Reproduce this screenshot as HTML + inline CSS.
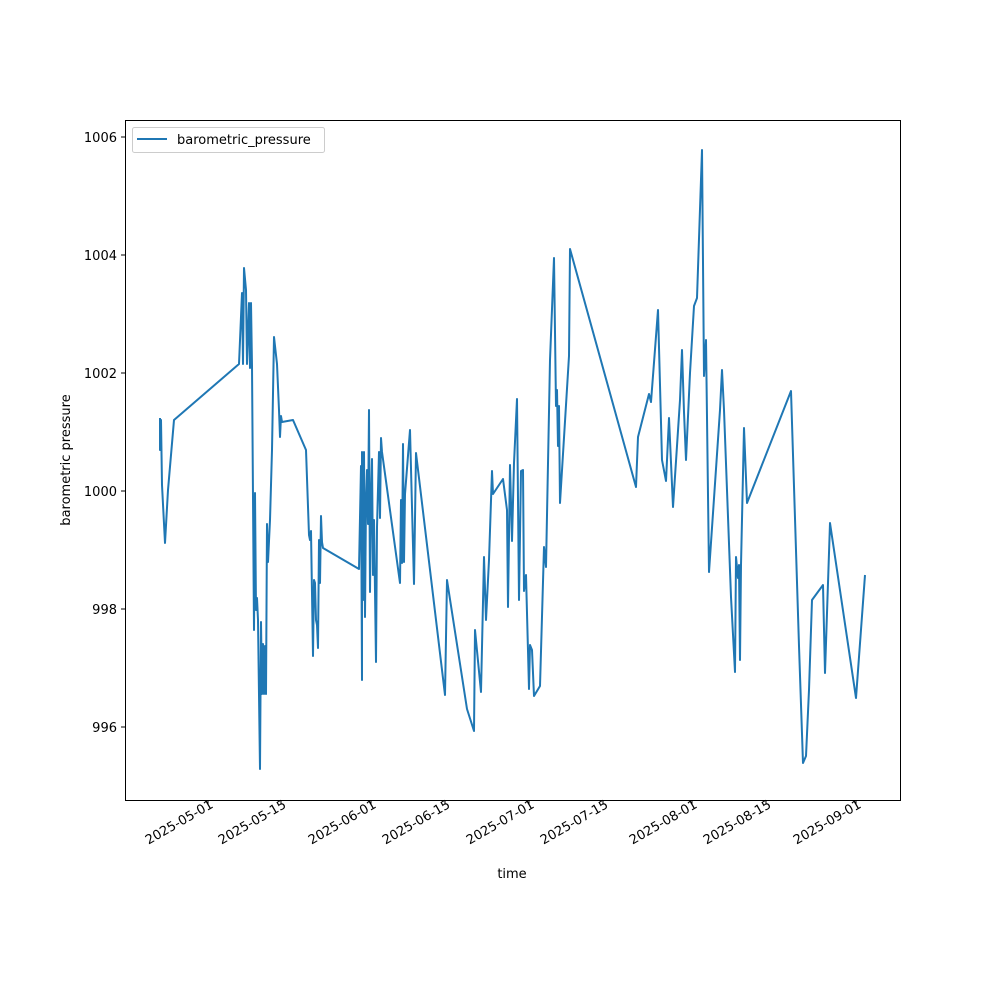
<!DOCTYPE html>
<html><head><meta charset="utf-8"><style>
body{margin:0;background:#fff;}
svg text{font-family:"DejaVu Sans","Liberation Sans",sans-serif;font-size:13px;fill:#000;}
</style></head><body>
<svg width="1000" height="1000" xmlns="http://www.w3.org/2000/svg">
<rect width="1000" height="1000" fill="#fff"/>
<polyline fill="none" stroke="#1f77b4" stroke-width="2" stroke-linejoin="round" points="160,418 160,450 161,420 162,485 165,543 168,490 174,420 239,364 242,293 243,364 244,268 246,290 247,364 249,303 250,368 251,303 252,366 254,630 255,493 256,610 257,598 258,620 260,769 261,622 262,694 263,644 264,694 265,646 266,694 267,524 268,562 270,520 272,450 274,337 277,364 279,410 280,437 281,416 282,422 293,420 306,450 309,535 310,540 311,531 313,656 314,580 315,583 316,620 317,625 318,648 319,540 320,583 321,516 322,542 323,548 359,569 361,466 362,680 362,452 363,600 364,452 365,617 366,500 367,470 368,524 369,410 370,592 371,500 372,459 373,575 374,520 376,662 377,527 379,452 380,518 381,438 382,452 400,583 401,500 402,563 403,444 404,562 405,494 410,430 414,584 416,453 445,695 447,580 467,709 474,731 475,630 481,692 484,557 486,620 489,560 492,471 493,494 503,479 507,510 508,607 510,465 512,541 514,463 517,399 519,600 521,471 523,470 524,591 526,575 529,689 530,645 532,650 534,696 540,686 544,547 546,567 550,360 554,258 556,406 557,390 558,446 559,406 560,503 569,356 570,249 636,487 638,437 649,394 651,402 658,310 662,460 666,481 669,418 673,507 680,400 682,350 684,412 686,460 690,373 694,306 697,298 702,150 704,376 706,340 709,572 720,410 722,370 724,410 731,597 735,672 736,557 738,578 739,565 740,660 741,565 744,428 747,503 791,391 799,646 803,763 806,756 809,690 812,600 823,585 825,673 830,523 856,698 865,575"/>
<rect x="125.5" y="120.5" width="775" height="680" fill="none" stroke="#000" stroke-width="1"/>
<g stroke="#000">
<line x1="125" y1="137" x2="121" y2="137"/><line x1="125" y1="255" x2="121" y2="255"/><line x1="125" y1="373" x2="121" y2="373"/><line x1="125" y1="491" x2="121" y2="491"/><line x1="125" y1="609" x2="121" y2="609"/><line x1="125" y1="727" x2="121" y2="727"/>
<line x1="208" y1="800" x2="208" y2="804"/><line x1="281" y1="800" x2="281" y2="804"/><line x1="371" y1="800" x2="371" y2="804"/><line x1="445" y1="800" x2="445" y2="804"/><line x1="529" y1="800" x2="529" y2="804"/><line x1="603" y1="800" x2="603" y2="804"/><line x1="692" y1="800" x2="692" y2="804"/><line x1="766" y1="800" x2="766" y2="804"/><line x1="856" y1="800" x2="856" y2="804"/>
</g>
<g text-anchor="end">
<text x="117" y="142">1006</text><text x="117" y="260">1004</text><text x="117" y="378">1002</text><text x="117" y="496">1000</text><text x="117" y="614">998</text><text x="117" y="732">996</text>
</g>
<g text-anchor="end">
<text transform="translate(214,807) rotate(-30)">2025-05-01</text>
<text transform="translate(287,807) rotate(-30)">2025-05-15</text>
<text transform="translate(377,807) rotate(-30)">2025-06-01</text>
<text transform="translate(451,807) rotate(-30)">2025-06-15</text>
<text transform="translate(535,807) rotate(-30)">2025-07-01</text>
<text transform="translate(609,807) rotate(-30)">2025-07-15</text>
<text transform="translate(698,807) rotate(-30)">2025-08-01</text>
<text transform="translate(772,807) rotate(-30)">2025-08-15</text>
<text transform="translate(862,807) rotate(-30)">2025-09-01</text>
</g>
<text x="512" y="878" text-anchor="middle">time</text>
<text transform="translate(70,460) rotate(-90)" text-anchor="middle">barometric pressure</text>
<rect x="132.5" y="127.5" width="192" height="25" rx="2" fill="#fff" stroke="#ccc"/>
<line x1="137" y1="139" x2="167" y2="139" stroke="#1f77b4" stroke-width="2"/>
<text x="177" y="144">barometric_pressure</text>
</svg>
</body></html>
